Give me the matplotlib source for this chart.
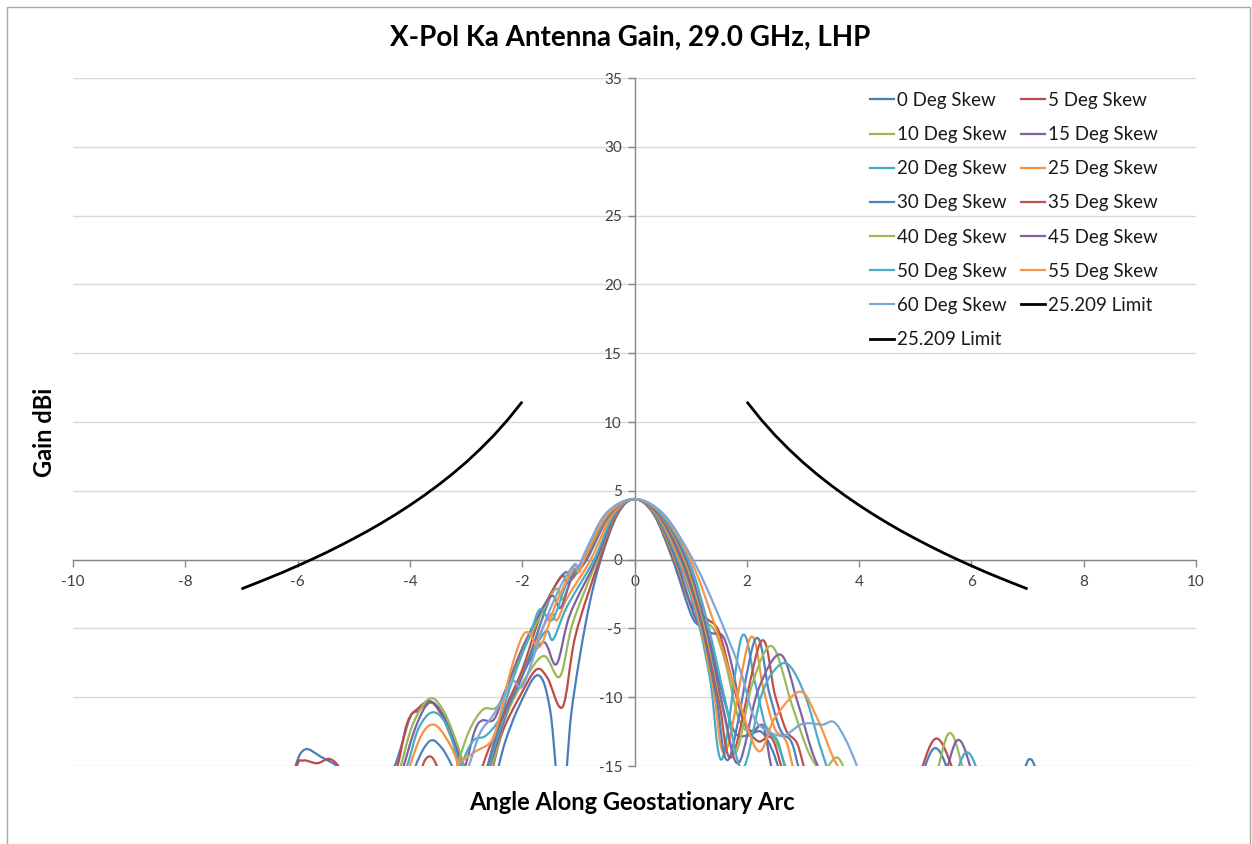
import numpy as np
import matplotlib
matplotlib.use("Agg")
import matplotlib.pyplot as plt
from matplotlib.path import Path
from matplotlib.patches import PathPatch, Rectangle
from matplotlib.lines import Line2D

plt.rcParams['font.family'] = ['Lato', 'DejaVu Sans']

# ---------------- data ----------------
title = "X-Pol Ka Antenna Gain, 29.0 GHz, LHP"
x_label = "Angle Along Geostationary Arc"
y_label = "Gain dBi"

x_ticks = [-10, -8, -6, -4, -2, 0, 2, 4, 6, 8, 10]
y_ticks = [-15, -10, -5, 0, 5, 10, 15, 20, 25, 30, 35]

skew_labels = ["0 Deg Skew", "5 Deg Skew", "10 Deg Skew", "15 Deg Skew", "20 Deg Skew",
               "25 Deg Skew", "30 Deg Skew", "35 Deg Skew", "40 Deg Skew", "45 Deg Skew",
               "50 Deg Skew", "55 Deg Skew", "60 Deg Skew"]
limit_label = "25.209 Limit"

skew_00_x = [-6.3, -6.05, -5.87, -5.6, -5.19, -4.8, -4.3, -4.0, -3.85, -3.64, -3.42, -3.2, -2.98, -2.75, -2.5, -2.3,
             -2.05, -1.72, -1.5, -1.3, -1.12, -0.85, -0.6, -0.3, 0.0, 0.34, 0.68, 1.03, 1.3, 1.55, 1.78, 2.0, 2.25,
             2.45, 2.7, 3.2, 4.6, 5.0, 5.35, 5.7, 6.1, 6.6, 6.92, 7.04, 7.17, 7.5]
skew_00_y = [-20, -15.2, -13.8, -14.3, -15.5, -19, -15.3, -11.5, -11.0, -10.3, -11.2, -13.5, -15.5, -17, -16, -13.2,
             -10.6, -8.4, -11.0, -18.5, -11.0, -4.2, 0.0, 3.3, 4.4, 3.3, 0.0, -4.2, -5.4, -9.5, -12.5, -12.8, -12.5,
             -13.8, -16.5, -20, -20, -17, -13.7, -16.5, -20, -19, -15.5, -14.5, -15.5, -20]

skew_05_x = [-6.3, -6.03, -5.9, -5.65, -5.42, -5.2, -4.8, -4.3, -4.05, -3.85, -3.65, -3.45, -3.2, -2.97, -2.7, -2.55,
             -2.35, -2.05, -1.75, -1.55, -1.28, -1.05, -0.62, -0.31, 0.0, 0.35, 0.70, 1.0, 1.29, 1.5, 1.72, 1.95,
             2.2, 2.45, 2.7, 3.2, 4.6, 5.0, 5.38, 5.8, 6.3]
skew_05_y = [-20, -15.2, -14.6, -14.8, -14.5, -15.5, -19, -16, -11.9, -10.8, -10.3, -11.2, -13.5, -15.5, -17.5, -15.5,
             -12.5, -10.0, -8.0, -8.6, -10.7, -5.5, 0.0, 3.3, 4.4, 3.3, 0.0, -3.2, -4.3, -5.2, -8.5, -11.8,
             -13.2, -13.0, -16, -20, -20, -16.5, -13.0, -16.5, -20]

skew_10_x = [-5.0, -4.5, -4.2, -3.95, -3.65, -3.4, -3.15, -2.95, -2.72, -2.5, -2.3, -2.0, -1.62, -1.33, -1.1, -0.66,
             -0.33, 0.0, 0.36, 0.72, 1.07, 1.4, 1.62, 1.85, 2.05, 2.3, 2.55, 2.8, 3.4, 4.8, 5.3, 5.62, 5.95, 6.4]
skew_10_y = [-20, -19, -15.5, -12.0, -10.1, -11.0, -13.5, -16, -17, -14.5, -11.5, -9.0, -7.0, -8.5, -4.6, 0.0,
             3.3, 4.4, 3.3, 0.0, -4.0, -5.0, -7.5, -11.5, -12.5, -12.0, -13.5, -16, -20, -20, -16.5, -12.6, -16.5, -20]

skew_15_x = [-5.0, -4.45, -4.15, -3.9, -3.65, -3.4, -3.15, -2.95, -2.72, -2.5, -2.25, -1.95, -1.62, -1.39, -1.15,
             -0.68, -0.34, 0.0, 0.37, 0.74, 1.09, 1.35, 1.58, 1.75, 1.92, 2.1, 2.3, 2.5, 3.0, 4.9, 5.45, 5.77,
             6.1, 6.5]
skew_15_y = [-20, -19, -15.5, -12.2, -10.4, -11.4, -14, -17, -16.5, -14, -10.8, -8.0, -6.0, -7.6, -4.0,
             0.0, 3.3, 4.4, 3.3, 0.0, -4.3, -5.3, -5.6, -8.0, -11.5, -12.5, -12.2, -16, -20, -20, -16.5, -13.1,
             -16.5, -20]

skew_20_x = [-4.8, -4.4, -4.05, -3.85, -3.6, -3.35, -3.1, -2.85, -2.6, -2.45, -2.2, -1.9, -1.58, -1.45, -1.2,
             -0.72, -0.36, 0.0, 0.38, 0.77, 1.12, 1.35, 1.56, 1.91, 2.15, 2.35, 2.55, 2.75, 3.2, 5.0, 5.62, 5.92,
             6.22, 6.6]
skew_20_y = [-20, -19, -15, -12.3, -11.1, -12.0, -15, -17, -15, -13, -10.2, -7.4, -5.2, -5.8, -3.4,
             0.0, 3.3, 4.4, 3.3, 0.0, -4.3, -8.8, -14.5, -5.6, -9.0, -12.3, -13.2, -16, -20, -20, -16.5, -14.0,
             -16.5, -20]

skew_25_x = [-4.7, -4.3, -4.0, -3.8, -3.62, -3.45, -3.2, -3.0, -2.7, -2.45, -2.15, -1.85, -1.5, -1.38, -1.2,
             -0.78, -0.39, 0.0, 0.40, 0.80, 1.15, 1.4, 1.62, 2.06, 2.3, 2.5, 2.7, 2.9, 3.4]
skew_25_y = [-20, -19, -15, -12.8, -12.0, -12.4, -14.2, -17, -16, -12.5, -9.8, -6.8, -4.0, -4.4, -2.8,
             0.0, 3.3, 4.4, 3.3, 0.0, -4.4, -9.3, -14.0, -5.7, -9.5, -12.3, -13.2, -16, -20]

skew_30_x = [-4.6, -4.2, -3.9, -3.65, -3.45, -3.25, -3.0, -2.7, -2.4, -2.0, -1.6, -1.4, -1.22, -1.12, -0.85,
             -0.43, 0.0, 0.42, 0.83, 1.18, 1.45, 1.68, 2.15, 2.4, 2.6, 2.8, 3.0, 3.5]
skew_30_y = [-20, -19, -15, -13.2, -13.6, -15, -17.5, -16, -12, -8.5, -3.8, -1.8, -0.9, -1.3, 0.0,
             3.3, 4.4, 3.3, 0.0, -4.5, -9.8, -14.5, -5.8, -9.7, -12.4, -13.3, -16, -20]

skew_35_x = [-4.5, -4.0, -3.8, -3.65, -3.5, -3.3, -2.95, -2.6, -2.3, -2.0, -1.65, -1.30, -1.18, -0.88, -0.44,
             0.0, 0.43, 0.86, 1.21, 1.5, 1.74, 2.25, 2.5, 2.7, 2.9, 3.1, 3.6]
skew_35_y = [-20, -19, -15.3, -14.3, -15.2, -18, -17.5, -13.8, -10.8, -8.0, -3.8, -1.24, -1.7, 0.0, 3.3,
             4.4, 3.3, 0.0, -4.6, -10.2, -14.3, -5.96, -9.8, -12.4, -13.4, -16, -20]

skew_40_x = [-3.9, -3.5, -3.2, -2.95, -2.7, -2.45, -2.2, -1.85, -1.42, -1.28, -1.1, -0.9, -0.45, 0.0, 0.45,
             0.89, 1.24, 1.55, 1.8, 2.1, 2.45, 2.8, 3.1, 3.35, 3.62, 3.85, 4.2]
skew_40_y = [-20, -19, -15.5, -12.5, -10.9, -10.7, -8.6, -5.5, -2.2, -2.9, -1.2, 0.0, 3.3, 4.4, 3.3,
             0.0, -4.7, -10.5, -14.0, -9.0, -6.3, -10.5, -14.0, -15.3, -14.4, -16.5, -20]

skew_45_x = [-3.8, -3.4, -3.05, -2.85, -2.72, -2.5, -2.3, -1.95, -1.50, -1.32, -1.12, -0.92, -0.46, 0.0, 0.46,
             0.92, 1.27, 1.58, 1.85, 2.2, 2.6, 2.9, 3.15, 3.35, 3.6]
skew_45_y = [-20, -19, -15.5, -12.5, -11.7, -11.6, -9.5, -6.0, -2.7, -3.5, -1.3, 0.0, 3.3, 4.4, 3.3,
             0.0, -4.8, -10.8, -14.8, -9.5, -6.9, -10.3, -13.8, -16, -20]

skew_50_x = [-3.7, -3.35, -3.1, -2.88, -2.65, -2.4, -2.15, -1.85, -1.68, -1.47, -1.22, -1.08, -1.01, -0.88,
             -0.47, 0.0, 0.47, 0.96, 1.3, 1.62, 1.92, 2.25, 2.5, 2.75, 3.05, 3.3, 3.5, 3.8]
skew_50_y = [-20, -19, -15.2, -13.2, -12.8, -11.5, -8.5, -5.3, -3.6, -4.4, -1.8, -0.7, -0.9, 0.3,
             3.3, 4.4, 3.3, 0.0, -4.6, -10.3, -15.2, -10.0, -8.0, -7.66, -10.0, -13.5, -16, -20]

skew_55_x = [-3.8, -3.5, -3.2, -2.85, -2.55, -2.4, -2.2, -2.0, -1.87, -1.68, -1.4, -1.12, -1.05, -0.98, -0.86,
             -0.48, 0.0, 0.5, 1.0, 1.4, 1.8, 2.2, 2.5, 2.95, 3.25, 3.54, 3.75, 4.1]
skew_55_y = [-20, -18, -15.2, -14.0, -13.2, -11.4, -8.0, -5.6, -5.36, -6.3, -3.2, -0.8, -0.45, -0.9, 0.4,
             3.3, 4.4, 3.3, 0.0, -4.4, -9.5, -13.9, -11.5, -9.6, -11.5, -14.4, -16, -20]

skew_60_x = [-3.5, -3.2, -2.95, -2.75, -2.55, -2.35, -2.17, -1.98, -1.6, -1.3, -1.07, -1.0, -0.85, -0.5, 0.0,
             0.52, 1.04, 1.46, 1.88, 2.12, 2.35, 2.65, 2.95, 3.15, 3.35, 3.55, 3.75, 3.96, 4.2]
skew_60_y = [-20, -18, -15, -12.6, -11.5, -10.2, -8.8, -9.1, -4.6, -1.8, -0.35, -0.6, 0.8, 3.4, 4.4,
             3.3, 0.0, -3.7, -8.0, -11.4, -12.4, -12.8, -12.0, -11.9, -12.0, -11.8, -13.0, -15, -18]

# 25.209 cross-polar limit envelope
limit_theta = [2.0, 2.25, 2.5, 2.75, 3.0, 3.25, 3.5, 3.75, 4.0, 4.25, 4.5, 4.75, 5.0, 5.25, 5.5, 5.75,
               6.0, 6.25, 6.5, 6.75, 7.0]
limit_gain = [11.47, 10.20, 9.05, 8.02, 7.07, 6.20, 5.40, 4.65, 3.95, 3.29, 2.67, 2.08, 1.53, 1.00, 0.49, 0.01,
              -0.45, -0.90, -1.32, -1.73, -2.13]

skew_colors = ['#4A7EBB', '#BE4B48', '#98B954', '#7D60A0', '#46AAC5', '#F69240', '#4F81BD',
               '#C0504D', '#9BBB59', '#8064A2', '#4BACC6', '#F79646', '#7EA6DA']

skew_series = [
    (skew_00_x, skew_00_y), (skew_05_x, skew_05_y), (skew_10_x, skew_10_y), (skew_15_x, skew_15_y),
    (skew_20_x, skew_20_y), (skew_25_x, skew_25_y), (skew_30_x, skew_30_y), (skew_35_x, skew_35_y),
    (skew_40_x, skew_40_y), (skew_45_x, skew_45_y), (skew_50_x, skew_50_y), (skew_55_x, skew_55_y),
    (skew_60_x, skew_60_y),
]


def smoothed_path(xs, ys):
    """Smoothed line through the points (cubic Bezier, Catmull-Rom tangents)."""
    if len(xs) != len(ys):
        raise ValueError("x/y length mismatch: %d vs %d" % (len(xs), len(ys)))
    pts = np.column_stack([xs, ys]).astype(float)
    n = len(pts)
    verts = [pts[0]]
    codes = [Path.MOVETO]
    for k in range(n - 1):
        p0 = pts[k - 1] if k > 0 else pts[k]
        p1 = pts[k]
        p2 = pts[k + 1]
        p3 = pts[k + 2] if k + 2 < n else pts[k + 1]
        c1 = p1 + (p2 - p0) / 6.0
        c2 = p2 - (p3 - p1) / 6.0
        verts += [c1, c2, p2]
        codes += [Path.CURVE4] * 3
    return Path(verts, codes)


W, H = 1252, 844
fig = plt.figure(figsize=(W / 100, H / 100), dpi=100)
fig.patch.set_facecolor('white')

# chart frame
fig.patches.append(Rectangle((6.5 / W, -0.01), (W - 9) / W, 1 - 6.5 / H + 0.01,
                             transform=fig.transFigure, fill=False,
                             edgecolor='#A6A6A6', lw=1.0))

ax = fig.add_axes([73 / W, 1 - 766 / H, (1196 - 73) / W, (766 - 78) / H])
ax.set_xlim(-10, 10)
ax.set_ylim(-15, 35)
ax.set_xticks(x_ticks)
ax.set_yticks(y_ticks)
ax.set_xticklabels([str(v) for v in x_ticks])
ax.set_yticklabels([str(v) for v in y_ticks])
ax.grid(axis='y', color='#D9D9D9', lw=1.0)
ax.grid(axis='x', visible=False)
ax.set_axisbelow(True)

for side in ('top', 'right'):
    ax.spines[side].set_visible(False)
ax.spines['left'].set_position(('data', 0))
ax.spines['bottom'].set_position(('data', 0))
for side in ('left', 'bottom'):
    ax.spines[side].set_color('#868686')
    ax.spines[side].set_linewidth(1.0)
ax.tick_params(axis='both', direction='out', length=5, width=1, color='#868686',
               labelsize=11, labelcolor='#404040')
ax.tick_params(axis='x', pad=6)
ax.tick_params(axis='y', pad=4)

handles = []
for (xs, ys), col, lab in zip(skew_series, skew_colors, skew_labels):
    patch = PathPatch(smoothed_path(xs, ys), facecolor='none', edgecolor=col, lw=1.6,
                      transform=ax.transData, capstyle='round', joinstyle='round', zorder=3)
    patch.set_clip_path(ax.patch)
    ax.add_patch(patch)
    handles.append(Line2D([0], [0], color=col, lw=1.6))

neg_theta = [-t for t in limit_theta]
ax.plot(limit_theta, limit_gain, color='black', lw=2.0, zorder=4, solid_capstyle='butt')
ax.plot(neg_theta, limit_gain, color='black', lw=2.0, zorder=4, solid_capstyle='butt')
handles.append(Line2D([0], [0], color='black', lw=2.0))
handles.append(Line2D([0], [0], color='black', lw=2.0))
labels = skew_labels + [limit_label, limit_label]

# legend is read row by row: reorder for matplotlib's column-major fill
order = list(range(0, len(labels), 2)) + list(range(1, len(labels), 2))
leg = ax.legend([handles[i] for i in order], [labels[i] for i in order], ncol=2,
                loc='upper left', bbox_to_anchor=(870 / W, 1 - 92 / H), bbox_transform=fig.transFigure,
                frameon=False, fontsize=13.5, handlelength=1.3, handletextpad=0.12,
                columnspacing=0.78, labelspacing=0.915, borderpad=0, borderaxespad=0)
for t in leg.get_texts():
    t.set_color('#1A1A1A')

fig.text(630 / W, 1 - 38 / H, title, ha='center', va='center', fontsize=20, fontweight='bold')
fig.text(632 / W, 1 - 803 / H, x_label, ha='center', va='center', fontsize=17, fontweight='bold')
fig.text(45 / W, 1 - 432 / H, y_label, ha='center', va='center', rotation=90, fontsize=17,
         fontweight='bold')

fig.savefig('out.png', dpi=100, facecolor='white')
